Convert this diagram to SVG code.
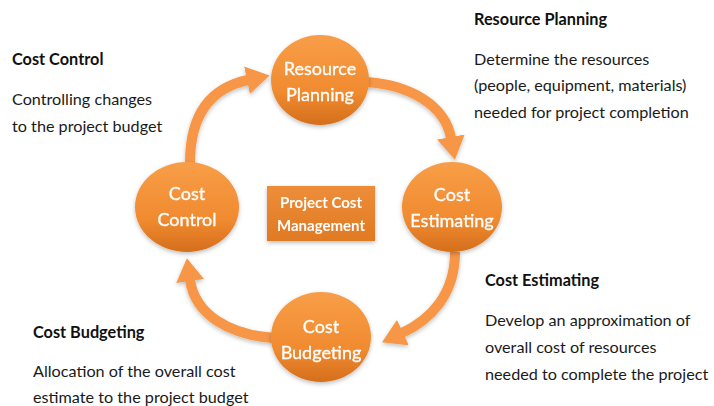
<svg xmlns="http://www.w3.org/2000/svg" width="714" height="406" viewBox="0 0 714 406">
  <style>
    .node-label { font-family: Lato, "Open Sans", "Liberation Sans", sans-serif; font-size: 18px; fill: #ffffff; text-anchor: middle; stroke: #ffffff; stroke-width: 0.3; }
    .hub-label { font-family: Lato, "Open Sans", "Liberation Sans", sans-serif; font-size: 15px; font-weight: bold; fill: #ffffff; text-anchor: middle; }
    .note-title { font-family: Lato, "Open Sans", "Liberation Sans", sans-serif; font-size: 16.3px; font-weight: bold; fill: #111111; }
    .note-body { font-family: Lato, "Open Sans", "Liberation Sans", sans-serif; font-size: 16.2px; fill: #1a1a1a; }
    .flow { fill: none; stroke: #F79646; stroke-width: 10; marker-end: url(#head); }
  </style>
  <defs>
    <linearGradient id="ballFill" x1="0" y1="0" x2="0" y2="1">
      <stop offset="0" stop-color="#F89E48"/>
      <stop offset="0.65" stop-color="#F08A2F"/>
      <stop offset="1" stop-color="#D46E1C"/>
    </linearGradient>
    <linearGradient id="boxFill" x1="0" y1="0" x2="0" y2="1">
      <stop offset="0" stop-color="#EE8D39"/>
      <stop offset="1" stop-color="#E07A23"/>
    </linearGradient>
    <filter id="shadow" x="-20%" y="-20%" width="140%" height="150%">
      <feDropShadow dx="0" dy="2" stdDeviation="2" flood-color="#000000" flood-opacity="0.25"/>
    </filter>
    <marker id="head" viewBox="0 0 23 28" markerWidth="23" markerHeight="28" refX="1" refY="14" orient="auto" markerUnits="userSpaceOnUse">
      <path d="M0,0 L23,14 L0,28 Z" fill="#F79646"/>
    </marker>
  </defs>

  <!-- cycle arrows -->
  <g id="connectors" filter="url(#shadow)">
    <path class="flow" d="M190,163 C190,115 210,88 248,80"/>
    <path class="flow" d="M366,82 C410,85 445,105 451,138"/>
    <path class="flow" d="M455,252 C455,295 430,320 402,333"/>
    <path class="flow" d="M274,338 C230,335 195,315 190,280"/>
  </g>

  <g id="resource-planning" filter="url(#shadow)">
    <ellipse cx="320" cy="80" rx="49" ry="45" fill="url(#ballFill)"/>
    <text class="node-label" x="320" y="75">Resource</text>
    <text class="node-label" x="320" y="101">Planning</text>
  </g>

  <g id="cost-estimating" filter="url(#shadow)">
    <ellipse cx="452" cy="207" rx="50" ry="45" fill="url(#ballFill)"/>
    <text class="node-label" x="452" y="201">Cost</text>
    <text class="node-label" x="452" y="227">Estimating</text>
  </g>

  <g id="cost-budgeting" filter="url(#shadow)">
    <ellipse cx="321" cy="337" rx="50" ry="45" fill="url(#ballFill)"/>
    <text class="node-label" x="321" y="333">Cost</text>
    <text class="node-label" x="321" y="359">Budgeting</text>
  </g>

  <g id="cost-control" filter="url(#shadow)">
    <ellipse cx="187" cy="207" rx="52" ry="45" fill="url(#ballFill)"/>
    <text class="node-label" x="187" y="200">Cost</text>
    <text class="node-label" x="187" y="226">Control</text>
  </g>

  <g id="project-cost-management" filter="url(#shadow)">
    <rect x="267" y="186" width="108" height="55" fill="url(#boxFill)"/>
    <text class="hub-label" x="321" y="208">Project Cost</text>
    <text class="hub-label" x="321" y="231">Management</text>
  </g>

  <!-- descriptions -->
  <g id="note-cost-control">
    <text class="note-title" x="12" y="65">Cost Control</text>
    <text class="note-body" x="12" y="105">Controlling changes</text>
    <text class="note-body" x="12" y="132">to the project budget</text>
  </g>
  <g id="note-resource-planning">
    <text class="note-title" x="474" y="25">Resource Planning</text>
    <text class="note-body" x="474" y="65">Determine the resources</text>
    <text class="note-body" x="474" y="91">(people, equipment, materials)</text>
    <text class="note-body" x="474" y="118">needed for project completion</text>
  </g>
  <g id="note-cost-estimating">
    <text class="note-title" x="485" y="286">Cost Estimating</text>
    <text class="note-body" x="485" y="326">Develop an approximation of</text>
    <text class="note-body" x="485" y="353">overall cost of resources</text>
    <text class="note-body" x="485" y="380">needed to complete the project</text>
  </g>
  <g id="note-cost-budgeting">
    <text class="note-title" x="33" y="338">Cost Budgeting</text>
    <text class="note-body" x="33" y="377">Allocation of the overall cost</text>
    <text class="note-body" x="33" y="403">estimate to the project budget</text>
  </g>
</svg>
